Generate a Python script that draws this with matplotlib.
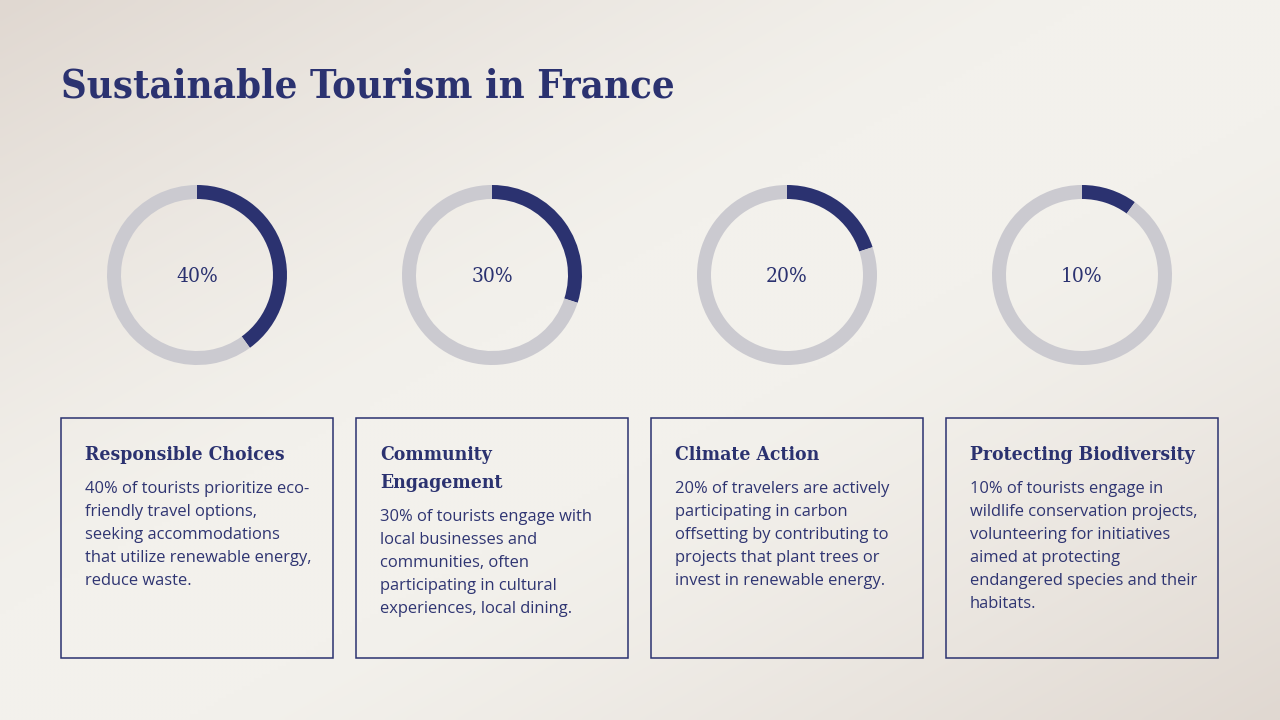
import numpy as np
import matplotlib
matplotlib.use("Agg")
import matplotlib.pyplot as plt
from matplotlib.patches import Rectangle

# data
title = "Sustainable Tourism in France"
percents = [40, 30, 20, 10]
headings = [["Responsible Choices"], ["Community", "Engagement"], ["Climate Action"], ["Protecting Biodiversity"]]
bodies = [
    ["40% of tourists prioritize eco-", "friendly travel options,", "seeking accommodations",
     "that utilize renewable energy,", "reduce waste."],
    ["30% of tourists engage with", "local businesses and", "communities, often",
     "participating in cultural", "experiences, local dining."],
    ["20% of travelers are actively", "participating in carbon", "offsetting by contributing to",
     "projects that plant trees or", "invest in renewable energy."],
    ["10% of tourists engage in", "wildlife conservation projects,", "volunteering for initiatives",
     "aimed at protecting", "endangered species and their", "habitats."],
]

NAVY = "#2b3270"
GREY = "#cbcad0"
W, H = 1280, 720

fig = plt.figure(figsize=(12.8, 7.2), dpi=100)
ax = fig.add_axes([0, 0, 1, 1])
ax.set_xlim(0, W)
ax.set_ylim(H, 0)
ax.axis("off")

# background gradient: darker at top-left and bottom-right
xx, yy = np.meshgrid(np.linspace(0, 1, 320), np.linspace(0, 1, 180))
w = np.clip(np.abs(xx + yy - 1.0) - 0.15, 0, None) / 0.85
w = w ** 1.3
light = np.array([0xf3, 0xf1, 0xec]) / 255
dark = np.array([0xe0, 0xd8, 0xd1]) / 255
img = light[None, None, :] * (1 - w[..., None]) + dark[None, None, :] * w[..., None]
ax.imshow(img, extent=[0, W, H, 0], aspect="auto", zorder=0, interpolation="bilinear")

ax.text(61, 86, title, fontsize=28.6, fontweight="bold", family="DejaVu Serif",
        fontstretch="condensed", color=NAVY, va="center", ha="left")

cx0, step = 197, 295
r = 90
for i, p in enumerate(percents):
    cx = cx0 + i * step
    pax = fig.add_axes([(cx - r - 2) / W, 1 - (275 + r + 2) / H, (2 * r + 4) / W, (2 * r + 4) / H])
    pax.pie([p, 100 - p], colors=[NAVY, GREY], startangle=90, counterclock=False,
            radius=r / (r + 2), wedgeprops=dict(width=14 / (r + 2), linewidth=0))
    pax.set_xlim(-1, 1)
    pax.set_ylim(-1, 1)
    pax.set_aspect("equal")
    pax.axis("off")
    ax.text(cx, 277, f"{p}%", fontsize=15, family="DejaVu Serif", fontstretch="condensed",
            color=NAVY, ha="center", va="center")

    bx = 61 + i * step
    ax.add_patch(Rectangle((bx, 418), 272, 240, fill=False, edgecolor=NAVY, linewidth=1.1, zorder=3))
    y = 455
    for line in headings[i]:
        ax.text(bx + 24, y, line, fontsize=13.9, fontweight="bold", family="DejaVu Serif",
                fontstretch="condensed", color=NAVY, ha="left", va="center")
        y += 28
    y += 6
    for line in bodies[i]:
        ax.text(bx + 24, y, line, fontsize=11.9, family="Open Sans", color="#2f3572",
                ha="left", va="center")
        y += 23

fig.savefig("out.png", dpi=100)
